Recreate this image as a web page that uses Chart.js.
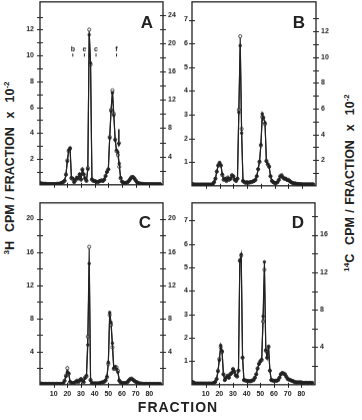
<!DOCTYPE html>
<html><head><meta charset="utf-8">
<script src="https://cdn.jsdelivr.net/npm/chart.js@4.4.1/dist/chart.umd.min.js"></script>
<style>
html,body{margin:0;padding:0;background:#fff;}
body{width:362px;height:420px;position:relative;overflow:hidden;font-family:"Liberation Sans",Arial,sans-serif;color:#222;}
canvas{position:absolute;}
.t{position:absolute;white-space:nowrap;font-weight:bold;transform:translate(-50%,-50%);line-height:1;}
.rot{transform:translate(-50%,-50%) rotate(-90deg);font-size:12.5px;word-spacing:1px;}
.rot sup{font-size:8px;vertical-align:5px;}
.pl{font-size:17px;}
</style></head>
<body>
<canvas id="cA" width="174" height="200"></canvas>
<canvas id="cB" width="174" height="200"></canvas>
<canvas id="cC" width="174" height="210"></canvas>
<canvas id="cD" width="174" height="210"></canvas>
<div class="t rot" style="left:10px;top:168px"><sup>3</sup>H&nbsp; CPM / FRACTION&nbsp; x&nbsp; 10<sup>-2</sup></div>
<div class="t rot" style="left:350px;top:183px"><sup>14</sup>C&nbsp; CPM / FRACTION&nbsp; x&nbsp; 10<sup>-2</sup></div>
<div class="t" style="left:178px;top:407px;font-size:14px;letter-spacing:1px">FRACTION</div>
<div class="t pl" style="left:147px;top:22px">A</div>
<div class="t pl" style="left:299px;top:22px">B</div>
<div class="t pl" style="left:145px;top:222px">C</div>
<div class="t pl" style="left:298px;top:222px">D</div>
<script>
const fractions = [0,1,2,3,4,5,6,7,8,9,10,11,12,13,14,15,16,17,18,19,20,21,22,23,24,25,26,27,28,29,30,31,32,33,34,35,36,37,38,39,40,41,42,43,44,45,46,47,48,49,50,51,52,53,54,55,56,57,58,59,60,61,62,63,64,65,66,67,68,69,70,71,72,73,74,75,76,77,78,79,80,81,82,83,84,85,86,87,88];

// Panel A
const aH3 = [0.12,0.1,0.08,0.08,0.07,0.07,0.06,0.06,0.06,0.06,0.06,
 0.06,0.07,0.08,0.08,0.1,0.15,0.2,0.3,0.8,1.9,
 2.6,2.8,0.5,0.45,0.2,0.35,0.55,0.5,0.8,0.4,
 1.2,0.8,0.5,0.3,1.3,12.0,9.3,0.4,0.3,0.3,
 0.25,0.2,0.25,0.3,0.35,0.3,0.4,0.7,1.0,1.2,
 3.7,5.8,7.3,5.5,3.5,2.6,2.3,1.4,0.5,0.25,
 0.15,0.15,0.15,0.2,0.3,0.45,0.6,0.6,0.5,0.35,
 0.2,0.12,0.1,0.08,0.07,0.06,0.06,0.05,0.05,0.05,
 0.05,0.05,0.05,0.05,0.05,0.05,0.05,0.05];
const aC14 = [0.22,0.2,0.15,0.15,0.12,0.12,0.1,0.1,0.1,0.1,0.1,
 0.1,0.12,0.14,0.15,0.2,0.3,0.4,0.6,1.4,3.3,
 4.9,5.2,1.0,0.9,0.4,0.7,1.0,0.9,1.5,0.8,
 2.1,1.5,0.9,0.6,2.2,21.2,17.2,0.8,0.6,0.5,
 0.45,0.4,0.45,0.55,0.6,0.55,0.75,1.2,1.8,2.2,
 6.6,10.4,13.0,9.8,6.3,4.9,4.6,3.0,1.0,0.45,
 0.3,0.28,0.28,0.35,0.55,0.8,1.05,1.1,0.9,0.6,
 0.35,0.22,0.18,0.15,0.12,0.1,0.1,0.09,0.09,0.09,
 0.09,0.09,0.09,0.09,0.09,0.09,0.09,0.09];
// Panel B
const bH3 = [0.07,0.06,0.05,0.05,0.05,0.05,0.05,0.05,0.05,0.05,0.05,
 0.05,0.05,0.05,0.05,0.07,0.15,0.3,0.6,0.85,0.95,
 0.85,0.45,0.25,0.3,0.2,0.35,0.25,0.3,0.45,0.4,
 0.25,0.2,0.3,3.2,6.3,2.4,0.2,0.15,0.12,0.15,
 0.12,0.15,0.15,0.18,0.2,0.25,0.4,0.7,1.0,1.7,
 2.9,2.7,2.6,1.05,0.9,0.8,0.4,0.2,0.15,0.12,
 0.12,0.15,0.25,0.4,0.45,0.35,0.3,0.3,0.25,0.25,
 0.2,0.15,0.12,0.1,0.1,0.08,0.08,0.07,0.07,0.06,
 0.06,0.06,0.06,0.06,0.06,0.06,0.06,0.06];
const bC14 = [0.13,0.12,0.1,0.1,0.1,0.1,0.1,0.1,0.1,0.1,0.1,
 0.1,0.1,0.1,0.1,0.13,0.28,0.55,1.1,1.6,1.8,
 1.6,0.9,0.5,0.55,0.4,0.6,0.5,0.55,0.8,0.75,
 0.5,0.4,0.55,5.7,10.9,4.1,0.4,0.3,0.25,0.28,
 0.25,0.28,0.3,0.33,0.38,0.45,0.75,1.3,1.9,3.2,
 5.6,5.3,4.9,1.9,1.7,1.5,0.75,0.4,0.28,0.22,
 0.22,0.28,0.45,0.7,0.8,0.65,0.55,0.55,0.45,0.45,
 0.35,0.28,0.22,0.18,0.18,0.15,0.15,0.13,0.13,0.11,
 0.11,0.11,0.11,0.11,0.11,0.11,0.11,0.11];
// Panel C
const cH3 = [0.12,0.12,0.1,0.1,0.1,0.1,0.1,0.1,0.1,0.1,0.1,
 0.1,0.1,0.1,0.1,0.1,0.1,0.15,0.5,1.1,2.0,
 1.3,0.3,0.2,0.15,0.2,0.3,0.5,0.3,0.55,0.7,
 0.5,0.3,0.9,1.0,5.8,16.6,0.6,0.2,0.15,0.15,
 0.15,0.15,0.15,0.2,0.25,0.3,0.35,0.5,0.9,2.5,
 8.4,7.2,4.5,1.9,1.9,2.1,1.7,0.5,0.3,0.2,
 0.2,0.2,0.2,0.3,0.5,0.7,0.75,0.6,0.5,0.35,
 0.3,0.2,0.15,0.15,0.1,0.1,0.1,0.1,0.1,0.1,
 0.1,0.1,0.1,0.1,0.1,0.1,0.1,0.1];
const cC14 = [0.15,0.15,0.12,0.12,0.12,0.12,0.12,0.12,0.12,0.12,0.12,
 0.12,0.12,0.12,0.12,0.12,0.12,0.2,0.45,1.0,1.5,
 1.4,0.4,0.25,0.2,0.25,0.35,0.45,0.35,0.5,0.65,
 0.5,0.35,0.8,1.1,4.8,14.6,0.5,0.2,0.18,0.18,
 0.18,0.18,0.18,0.22,0.28,0.3,0.4,0.55,1.0,2.7,
 8.7,7.5,5.0,2.0,2.2,1.9,1.5,0.5,0.3,0.2,
 0.2,0.2,0.22,0.35,0.55,0.65,0.7,0.6,0.45,0.35,
 0.28,0.2,0.15,0.12,0.12,0.1,0.1,0.1,0.1,0.1,
 0.1,0.1,0.1,0.1,0.1,0.1,0.1,0.1];
// Panel D
const dH3 = [0.12,0.1,0.06,0.05,0.05,0.05,0.05,0.05,0.05,0.05,0.05,
 0.05,0.05,0.05,0.05,0.05,0.08,0.12,0.25,0.6,1.1,
 1.6,1.4,0.45,0.2,0.3,0.38,0.3,0.45,0.5,0.67,
 0.55,0.4,0.35,0.6,5.3,5.5,1.15,0.2,0.18,0.17,
 0.15,0.15,0.15,0.18,0.2,0.3,0.45,0.7,0.9,1.0,
 1.05,2.7,4.9,1.45,1.15,1.6,0.6,0.2,0.18,0.17,
 0.17,0.17,0.2,0.3,0.45,0.5,0.48,0.45,0.35,0.25,
 0.22,0.2,0.17,0.15,0.12,0.1,0.1,0.1,0.1,0.1,
 0.08,0.08,0.08,0.08,0.08,0.08,0.08,0.08];
const dC14 = [0.3,0.25,0.15,0.12,0.12,0.12,0.12,0.12,0.12,0.12,0.12,
 0.12,0.12,0.12,0.12,0.12,0.2,0.3,0.6,1.4,2.6,
 4.2,3.6,1.1,0.5,0.75,0.95,0.75,1.1,1.25,1.65,
 1.4,1.0,0.9,1.5,13.2,13.9,2.9,0.5,0.45,0.42,
 0.38,0.38,0.38,0.45,0.5,0.75,1.1,1.7,2.2,2.5,
 2.7,7.3,13.1,3.7,2.9,4.1,1.5,0.5,0.45,0.42,
 0.42,0.42,0.5,0.75,1.1,1.25,1.2,1.1,0.85,0.62,
 0.55,0.5,0.42,0.38,0.3,0.25,0.25,0.25,0.25,0.25,
 0.2,0.2,0.2,0.2,0.2,0.2,0.2,0.2];

// Tick marks and tick labels
const xMarks = [10,20,30,40,50,60,70,80];
const xLabels = [10,20,30,40,50,60,70,80];
const aLeftMarks = [1,2,3,4,5,6,7,8,9,10,11,12,13];
const aLeftLabels = [2,4,6,8,10,12];
const aRightMarks = [2,4,6,8,10,12,14,16,18,20,22,24];
const aRightLabels = [4,8,12,16,20,24];
const bLeftMarks = [1,2,3,4,5,6,7];
const bLeftLabels = [1,2,3,4,5,6,7];
const bRightMarks = [1,2,3,4,5,6,7,8,9,10,11,12,13];
const bRightLabels = [2,4,6,8,10,12];
const cLeftMarks = [2,4,6,8,10,12,14,16,18,20];
const cLeftLabels = [4,8,12,16,20];
const cRightMarks = [2,4,6,8,10,12,14,16,18,20];
const cRightLabels = [4,8,12,16,20];
const dLeftMarks = [1,2,3,4,5,6,7];
const dLeftLabels = [1,2,3,4,5,6,7];
const dRightMarks = [2,4,6,8,10,12,14,16,18];
const dRightLabels = [4,8,12,16];

// Fraction markers in panel A
const markerNames = ['b','e','c','f'];
const markerFractions = [24,32.5,41,56];
const arrowFraction = 57.7;
const arrowFrom = 4.3, arrowTo = 2.9;

const INK = '#222';
const FONT = '"Liberation Sans", Arial, sans-serif';

const framePlugin = {
  id: 'frame',
  afterDraw(chart) {
    const {ctx, chartArea: a, scales} = chart;
    ctx.save();
    ctx.strokeStyle = INK;
    ctx.lineWidth = 1.3;
    ctx.strokeRect(a.left, a.top, a.right - a.left, a.bottom - a.top);
    ctx.lineWidth = 1;
    ctx.beginPath();
    scales.y.ticks.forEach(t => { const p = Math.round(scales.y.getPixelForValue(t.value)) + 0.5; ctx.moveTo(a.left - 3, p); ctx.lineTo(a.left + 3, p); });
    scales.y2.ticks.forEach(t => { const p = Math.round(scales.y2.getPixelForValue(t.value)) + 0.5; ctx.moveTo(a.right - 3, p); ctx.lineTo(a.right + 3, p); });
    scales.x.ticks.forEach(t => { const p = Math.round(scales.x.getPixelForValue(t.value)) + 0.5; ctx.moveTo(p, a.bottom - 2); ctx.lineTo(p, a.bottom + 3); });
    ctx.stroke();
    const ann = chart.options.plugins.frame;
    if (ann && ann.markers) {
      ctx.fillStyle = INK;
      ctx.font = 'bold 7px ' + FONT;
      ctx.textAlign = 'center';
      ctx.textBaseline = 'middle';
      ctx.beginPath();
      const topOff = a.top - 2;
      markerNames.forEach((n, i) => {
        const px = scales.x.getPixelForValue(markerFractions[i]);
        ctx.fillText(n, px, 49 + topOff);
        ctx.moveTo(px, 53.5 + topOff); ctx.lineTo(px, 56.5 + topOff);
      });
      ctx.stroke();
      const ax = scales.x.getPixelForValue(arrowFraction);
      const y1 = scales.y.getPixelForValue(arrowFrom), y2 = scales.y.getPixelForValue(arrowTo);
      ctx.lineWidth = 1.6;
      ctx.beginPath(); ctx.moveTo(ax, y1); ctx.lineTo(ax, y2 - 3); ctx.stroke();
      ctx.beginPath(); ctx.moveTo(ax - 2.5, y2 - 5); ctx.lineTo(ax + 2.5, y2 - 5); ctx.lineTo(ax, y2); ctx.closePath(); ctx.fill();
    }
    ctx.restore();
  }
};

function axisCfg(pos, max, marks, labels, size, pad, show) {
  return {
    type: 'linear', position: pos, min: 0, max: max,
    grid: {display: false, drawTicks: false}, border: {display: false},
    afterBuildTicks: s => { s.ticks = marks.map(v => ({value: v})); },
    afterFit: s => {
      if (pos === 'bottom') { s.height = size; s.paddingLeft = 0; s.paddingRight = 0; }
      else { s.width = size; s.paddingTop = 0; s.paddingBottom = 0; }
    },
    ticks: {
      display: show, autoSkip: false, maxRotation: 0, minRotation: 0, padding: pad,
      font: {family: FONT, size: 7, weight: 'bold'}, color: INK,
      callback: v => labels.includes(v) ? String(v) : ''
    }
  };
}

// target plot boxes on the page: left, top, width, height
function makePanel(id, h3, c14, cfg) {
  const cv = document.getElementById(id);
  const xy = vals => fractions.map((f, i) => ({x: f, y: vals[i]}));
  const chart = new Chart(cv, {
    type: 'line',
    data: {datasets: [
      {data: xy(c14), yAxisID: 'y2', borderColor: INK, borderWidth: 1.2, pointRadius: 1.4,
       pointBackgroundColor: INK, pointBorderColor: INK, pointBorderWidth: 0.5, tension: 0},
      {data: xy(h3), yAxisID: 'y', borderColor: INK, borderWidth: 1.1, pointRadius: 1.6,
       pointBackgroundColor: '#fff', pointBorderColor: INK, pointBorderWidth: 0.8, tension: 0}
    ]},
    options: {
      responsive: false, animation: false, events: [],
      layout: {padding: {top: 4, left: 0, right: 0, bottom: 0}},
      plugins: {legend: {display: false}, tooltip: {enabled: false}, frame: {markers: cfg.markers}},
      scales: {
        x: axisCfg('bottom', 90, xMarks, xLabels, cfg.xh, 5, cfg.xShow),
        y: axisCfg('left', cfg.lmax, cfg.lm, cfg.ll, 22, cfg.lpad, true),
        y2: axisCfg('right', cfg.rmax, cfg.rm, cfg.rl, 22, cfg.rpad, true)
      }
    },
    plugins: [framePlugin]
  });
  let a = chart.chartArea;
  const want = cfg.box;
  const dh = want[3] - (a.bottom - a.top);
  if (Math.abs(dh) > 0.01) { chart.resize(cv.width, cv.height + dh); a = chart.chartArea; }
  cv.style.left = (want[0] - a.left) + 'px';
  cv.style.top = (want[1] - a.top) + 'px';
  return chart;
}

makePanel('cA', aH3, aC14, {box: [40, 2, 130, 182], lmax: 14.15, rmax: 25.85, lm: aLeftMarks, ll: aLeftLabels, rm: aRightMarks, rl: aRightLabels, xh: 6, xShow: false, lpad: 6, rpad: 5, markers: true});
makePanel('cB', bH3, bC14, {box: [192, 2, 130, 183], lmax: 7.75, rmax: 14.3, lm: bLeftMarks, ll: bLeftLabels, rm: bRightMarks, rl: bRightLabels, xh: 6, xShow: false, lpad: 4, rpad: 5, markers: false});
makePanel('cC', cH3, cC14, {box: [40, 203, 130, 181], lmax: 21.9, rmax: 21.9, lm: cLeftMarks, ll: cLeftLabels, rm: cRightMarks, rl: cRightLabels, xh: 16, xShow: true, lpad: 6, rpad: 5, markers: false});
makePanel('cD', dH3, dC14, {box: [192, 203, 130, 181], lmax: 7.75, rmax: 19.4, lm: dLeftMarks, ll: dLeftLabels, rm: dRightMarks, rl: dRightLabels, xh: 16, xShow: true, lpad: 4, rpad: 5, markers: false});
</script>
</body></html>
